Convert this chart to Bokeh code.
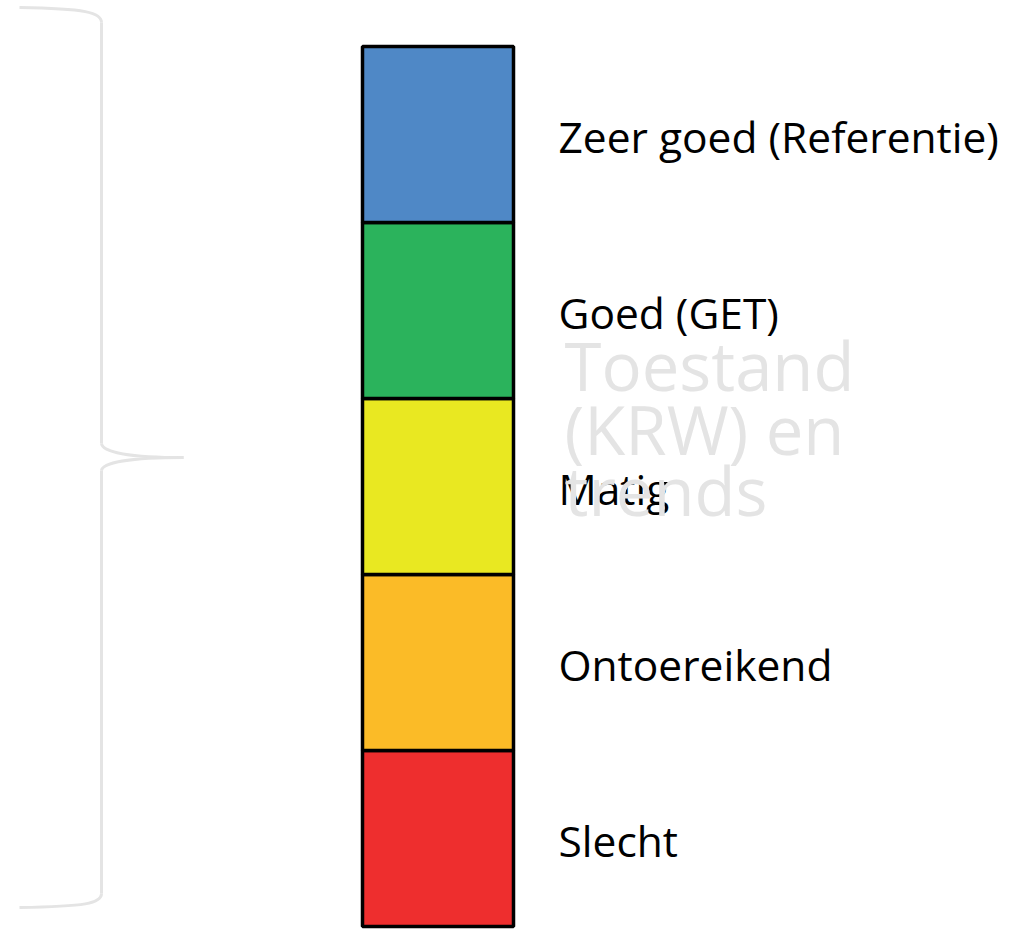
from bokeh.plotting import figure
from bokeh.models import Range1d
from bokeh.core.properties import value
from bokeh.embed import file_html
from bokeh.resources import INLINE

# Classes, bottom to top
categories = ["Slecht", "Ontoereikend", "Matig", "Goed (GET)", "Zeer goed (Referentie)"]
levels = [0, 1, 2, 3, 4]
colors = ["#ee2e2e", "#fbbb27", "#e9e821", "#2bb35c", "#4f88c6"]
watermark_lines = ["Toestand", "(KRW) en", "trends"]

# Brace decoration (pixel coordinates of the page)
brace_x0 = [19, 101, 183]
brace_y0 = [7, 443, 457]
brace_x1 = [101, 183, 101]
brace_y1 = [22, 457, 470]
brace_cx0 = [85, 102, 130]
brace_cy0 = [8, 452, 457]
brace_cx1 = [101, 130, 102]
brace_cy1 = [12, 457, 462]
brace_bot_x0 = [101]
brace_bot_y0 = [893]
brace_bot_x1 = [19]
brace_bot_y1 = [907]

W, H = 1030, 929
p = figure(width=W, height=H, output_backend="svg", toolbar_location=None,
           x_range=Range1d(0, W), y_range=Range1d(H, 0),
           min_border=0, outline_line_color=None)
p.axis.visible = False
p.grid.visible = False
p.background_fill_color = "white"
p.border_fill_color = "white"

# level range: 0 at pixel 926, 5 at pixel 46
px_per = (926 - 46) / 5.0
p.extra_y_ranges = {"lvl": Range1d((926 - H) / px_per, (926 - 0) / px_per)}

grey = "#e4e4e4"
# brace
p.bezier(x0=brace_x0, y0=brace_y0, x1=brace_x1, y1=brace_y1,
         cx0=brace_cx0, cy0=brace_cy0, cx1=brace_cx1, cy1=brace_cy1,
         line_color=grey, line_width=3)
p.bezier(x0=brace_bot_x0, y0=brace_bot_y0, x1=brace_bot_x1, y1=brace_bot_y1,
         cx0=[101], cy0=[903], cx1=[85], cy1=[906],
         line_color=grey, line_width=3)
p.segment(x0=[101, 101], y0=[22, 470], x1=[101, 101], y1=[443, 893],
          line_color=grey, line_width=3)

# boxes
p.quad(left=362, right=513, bottom=levels, top=[l + 1 for l in levels],
       fill_color=colors, line_color="black", line_width=3.5,
       y_range_name="lvl")

# labels
p.text(x=558, y=[l + 0.5 for l in levels], text=categories,
       text_font=value("Open Sans"), text_font_size="42.5px", text_color="black",
       text_baseline="alphabetic", text_align="left", y_offset=2,
       y_range_name="lvl")

# watermark
p.text(x=564, y=[392, 456, 517], text=watermark_lines,
       text_font=value("Open Sans"), text_font_size="67px", text_color=grey,
       text_baseline="alphabetic", text_align="left", y_offset=-28)

open("out.html", "w").write(file_html(p, INLINE))
